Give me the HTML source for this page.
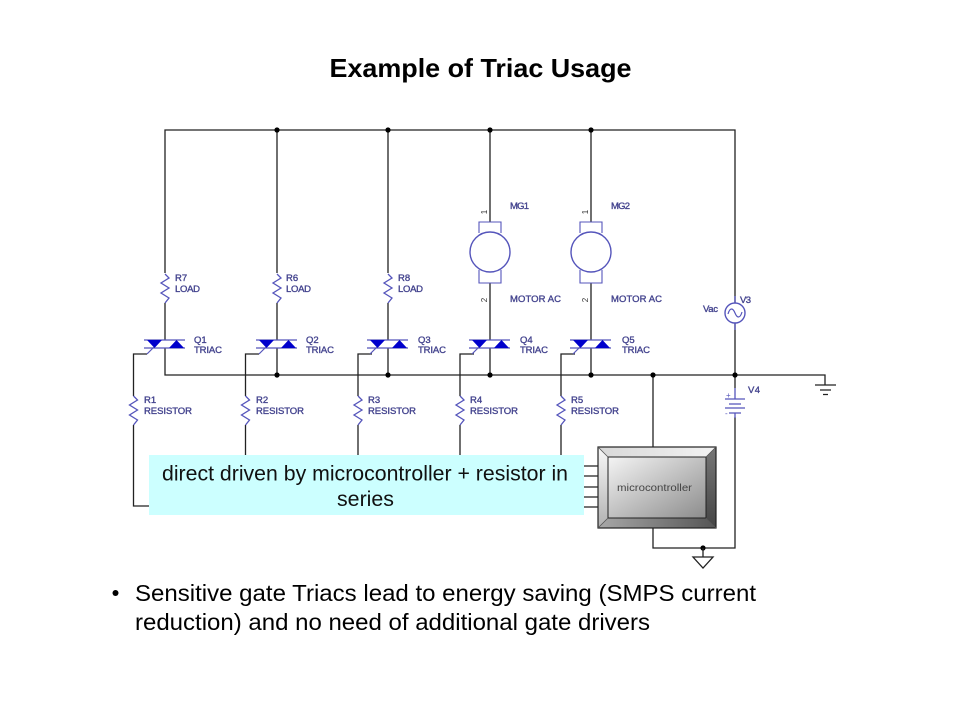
<!DOCTYPE html>
<html><head><meta charset="utf-8"><style>
html,body{margin:0;padding:0;background:#fff}
svg{display:block;filter:blur(.3px)}
text{font-family:"Liberation Sans",sans-serif}
.l{font-size:9.5px;fill:#45458f;stroke:#45458f;stroke-width:.35}
.w{stroke:#222;stroke-width:1.3;fill:none}
.b{stroke:#5555bb;stroke-width:1.3;fill:none}
</style></head><body>
<svg width="960" height="720" viewBox="0 0 960 720" xmlns="http://www.w3.org/2000/svg">
<defs>
<linearGradient id="g" x1="0" y1="0" x2="1" y2="1"><stop offset="0" stop-color="#f4f4f4"/><stop offset="1" stop-color="#8c8c8c"/></linearGradient>
<linearGradient id="t" x1="0" y1="0" x2="1" y2="0"><stop offset="0" stop-color="#d8d8d8"/><stop offset="1" stop-color="#f2f2f2"/></linearGradient>
<linearGradient id="lf" x1="0" y1="0" x2="0" y2="1"><stop offset="0" stop-color="#f8f8f8"/><stop offset="1" stop-color="#b0b0b0"/></linearGradient>
<linearGradient id="bt" x1="0" y1="0" x2="1" y2="0"><stop offset="0" stop-color="#a8a8a8"/><stop offset="1" stop-color="#555"/></linearGradient>
<linearGradient id="rt" x1="0" y1="0" x2="0" y2="1"><stop offset="0" stop-color="#777"/><stop offset="1" stop-color="#444"/></linearGradient>
<g id="triac">
<path d="M-21 340H20M-21 348H20" stroke="#5555bb" stroke-width="1.2" fill="none"/>
<path d="M-18 340H-3L-10.5 348Z M4 348H19L11.500 340Z" fill="#0000cc"/>
<path d="M-18 354L-11 347" stroke="#5555bb" stroke-width="1.2"/>
</g>
<path id="zz" d="M0 0L4 4L-4 9L4 14L-4 19L4 24L0 29" fill="none" stroke="#5555bb" stroke-width="1.3"/>
<g id="motor">
<path d="M-11 233V222H11V233M-11 270V283H11V270" fill="none" stroke="#5555bb" stroke-width="1.1"/>
<circle cx="0" cy="252" r="20" fill="#fff" stroke="#5555bb" stroke-width="1.4"/>
</g>
</defs>

<text x="480.500" y="77" text-anchor="middle" font-size="26" font-weight="bold" textLength="302" lengthAdjust="spacingAndGlyphs" fill="#000">Example of Triac Usage</text>

<!-- Rails -->
<path class="w" d="M165 273V130H735V303M735 323V388M735 417V548H653V528M653 375V447M165 348V375H825V385"/>
<path class="w" d="M277 130V273M388 130V273M490 130V222M591 130V222M277 303V340M388 303V340M165 303V340M490 283V340M591 283V340M277 348V375M388 348V375M490 348V375M591 348V375"/>
<!-- Gate wires -->
<path class="w" d="M147 354H133.500V396M133.500 425V506H150M259 354H245.500V396M245.500 425V456M372 354H358V396M358 425V456M474 354H460V396M460 425V456M575 354H561V396M561 425V456"/>
<path class="w" d="M584 466H598M584 476H598M584 487H598M584 497H598M584 507H598"/>

<!-- Dots -->
<g fill="#000">
<circle cx="277" cy="130" r="2.600"/><circle cx="388" cy="130" r="2.600"/><circle cx="490" cy="130" r="2.600"/><circle cx="591" cy="130" r="2.600"/>
<circle cx="277" cy="375" r="2.600"/><circle cx="388" cy="375" r="2.600"/><circle cx="490" cy="375" r="2.600"/><circle cx="591" cy="375" r="2.600"/><circle cx="653" cy="375" r="2.600"/><circle cx="735" cy="375" r="2.600"/>
<circle cx="703" cy="548" r="2.600"/>
</g>

<!-- Triacs -->
<use href="#triac" x="165"/><use href="#triac" x="277"/><use href="#triac" x="388"/><use href="#triac" x="490"/><use href="#triac" x="591"/>

<!-- Resistors -->
<use href="#zz" x="165" y="274"/><use href="#zz" x="277" y="274"/><use href="#zz" x="388" y="274"/>
<use href="#zz" x="133.500" y="396"/><use href="#zz" x="245.500" y="396"/><use href="#zz" x="358" y="396"/><use href="#zz" x="460" y="396"/><use href="#zz" x="561" y="396"/>

<!-- Motors -->
<use href="#motor" x="490"/><use href="#motor" x="591"/>
<g font-size="8" fill="#333">
<text transform="translate(487,212) rotate(-90)" text-anchor="middle">1</text>
<text transform="translate(487,300) rotate(-90)" text-anchor="middle">2</text>
<text transform="translate(588,212) rotate(-90)" text-anchor="middle">1</text>
<text transform="translate(588,300) rotate(-90)" text-anchor="middle">2</text>
</g>

<!-- V3 -->
<path class="b" d="M735 296V303M735 323V330"/>
<circle cx="735" cy="313" r="10" fill="#fff" stroke="#5555bb" stroke-width="1.4"/>
<path d="M728 314C730 307 733 308 735 313C737 318 740 319 742 312" fill="none" stroke="#5555bb" stroke-width="1.2"/>

<!-- V4 -->
<path class="b" d="M735 388V399M735 413V418M725 399H745M729 404H741M725 408H745M729 413H741"/>
<text x="726" y="398" font-size="8" fill="#5555bb">+</text>
<text x="725" y="416" font-size="8" fill="#5555bb">-</text>

<!-- Grounds -->
<path class="w" d="M815 385H836M820 390H831M823 394.500H828"/>
<path class="w" d="M703 548V557M693 557H713L703 568Z"/>

<!-- Labels -->
<g class="l">
<text x="175" y="281">R7</text><text x="175" y="292" textLength="25">LOAD</text>
<text x="286" y="281">R6</text><text x="286" y="292" textLength="25">LOAD</text>
<text x="398" y="281">R8</text><text x="398" y="292" textLength="25">LOAD</text>
<text x="194" y="343">Q1</text><text x="194" y="353" textLength="28">TRIAC</text>
<text x="306" y="343">Q2</text><text x="306" y="353" textLength="28">TRIAC</text>
<text x="418" y="343">Q3</text><text x="418" y="353" textLength="28">TRIAC</text>
<text x="520" y="343">Q4</text><text x="520" y="353" textLength="28">TRIAC</text>
<text x="622" y="343">Q5</text><text x="622" y="353" textLength="28">TRIAC</text>
<text x="144" y="403">R1</text><text x="144" y="414" textLength="48">RESISTOR</text>
<text x="256" y="403">R2</text><text x="256" y="414" textLength="48">RESISTOR</text>
<text x="368" y="403">R3</text><text x="368" y="414" textLength="48">RESISTOR</text>
<text x="470" y="403">R4</text><text x="470" y="414" textLength="48">RESISTOR</text>
<text x="571" y="403">R5</text><text x="571" y="414" textLength="48">RESISTOR</text>
<text x="510" y="209" textLength="19">MG1</text><text x="611" y="209" textLength="19">MG2</text>
<text x="510" y="302" textLength="51">MOTOR AC</text><text x="611" y="302" textLength="51">MOTOR AC</text>
<text x="703" y="312" textLength="15">Vac</text><text x="740" y="303" textLength="11">V3</text><text x="748" y="393" textLength="12">V4</text>
</g>

<!-- Cyan box -->
<rect x="149" y="455" width="435" height="60" fill="#ccffff"/>
<text x="162" y="480.500" font-size="21" textLength="406" lengthAdjust="spacingAndGlyphs" fill="#111">direct driven by microcontroller + resistor in</text>
<text x="337" y="506" font-size="21" textLength="57" lengthAdjust="spacingAndGlyphs" fill="#111">series</text>

<!-- Microcontroller -->
<rect x="598" y="447" width="118" height="81" fill="#888"/>
<path d="M598 447H716L706 457H608Z" fill="url(#t)"/>
<path d="M598 447L608 457V518L598 528Z" fill="url(#lf)"/>
<path d="M716 447L706 457V518L716 528Z" fill="url(#rt)"/>
<path d="M598 528L608 518H706L716 528Z" fill="url(#bt)"/>
<rect x="608" y="457" width="98" height="61" fill="url(#g)" stroke="#222" stroke-width="1"/>
<rect x="598" y="447" width="118" height="81" fill="none" stroke="#222" stroke-width="1.200"/>
<path d="M598 447L608 457M716 447L706 457M598 528L608 518M716 528L706 518" stroke="#555" stroke-width=".8"/>
<text x="617" y="491" font-size="10.500" textLength="75" lengthAdjust="spacingAndGlyphs" fill="#444">microcontroller</text>

<!-- Bullet -->
<circle cx="115.500" cy="593" r="3" fill="#000"/>
<text x="135" y="601" font-size="23" textLength="621" lengthAdjust="spacingAndGlyphs" fill="#000">Sensitive gate Triacs lead to energy saving (SMPS current</text>
<text x="135" y="630" font-size="23" textLength="515" lengthAdjust="spacingAndGlyphs" fill="#000">reduction) and no need of additional gate drivers</text>
</svg>
</body></html>
